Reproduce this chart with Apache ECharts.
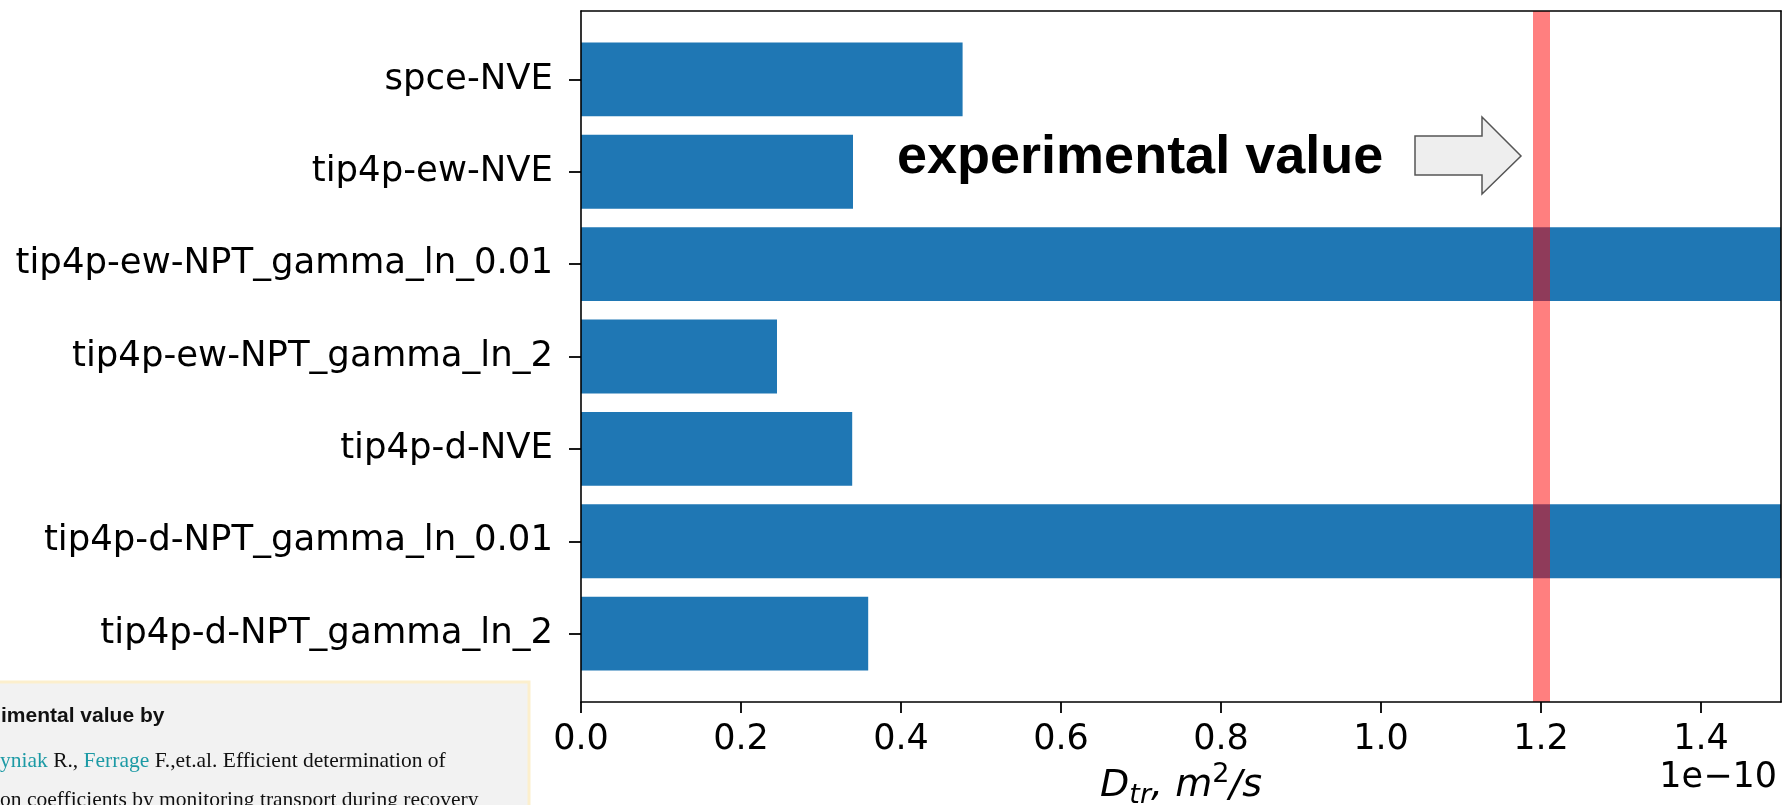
<!DOCTYPE html>
<html>
<head>
<meta charset="utf-8">
<script src="https://cdn.jsdelivr.net/npm/echarts@6/dist/echarts.min.js"></script>
<style>
  html, body { margin: 0; padding: 0; background: #ffffff; }
  #chart { width: 1783px; height: 805px; }
</style>
</head>
<body>
<div id="chart"></div>
<script>
// Water models / ensembles, listed top to bottom
const categories = [
  'spce-NVE',
  'tip4p-ew-NVE',
  'tip4p-ew-NPT_gamma_ln_0.01',
  'tip4p-ew-NPT_gamma_ln_2',
  'tip4p-d-NVE',
  'tip4p-d-NPT_gamma_ln_0.01',
  'tip4p-d-NPT_gamma_ln_2'
];
// Translational diffusion coefficient, in units of 1e-10 m^2/s
const diffusion = [0.477, 0.340, 1.62, 0.245, 0.339, 1.62, 0.359];
// Experimental reference value, same units
const experimental = [1.2];
// Bottom axis
const xTicks = [0, 0.2, 0.4, 0.6, 0.8, 1.0, 1.2, 1.4];
const xRange = [0, 1.5];
const xOffsetText = '1e\u221210';

const FONT = 'DejaVu Sans';
const plotLeft = 581, plotRight = 2, plotTop = 11, plotBottom = 103;
// category bands leave a margin of 0.74 bar spacing above and below
const unit = (805 - plotTop - plotBottom) / 7.48;
const bandTop = plotTop + (0.74 - 0.5) * unit;
const bandHeight = 7 * unit;

const frameAxis = {
  gridIndex: 1,
  z: 10,
  axisLine: { show: true, onZero: false, lineStyle: { color: '#000', width: 1.6 } },
  axisTick: { show: false },
  axisLabel: { show: false },
  splitLine: { show: false }
};

const chart = echarts.init(document.getElementById('chart'), null, { renderer: 'canvas' });
chart.setOption({
  animation: false,
  backgroundColor: '#ffffff',
  grid: [
    { left: plotLeft, right: plotRight, top: bandTop, height: bandHeight, containLabel: false, outerBoundsMode: 'none' },
    { left: plotLeft, right: plotRight, top: plotTop, bottom: plotBottom, containLabel: false, outerBoundsMode: 'none' }
  ],
  xAxis: [
    { type: 'value', gridIndex: 0, min: xRange[0], max: xRange[1], show: false },
    Object.assign({}, frameAxis, {
      type: 'value', position: 'bottom', min: xRange[0], max: xRange[1],
      axisTick: { show: true, length: 11, customValues: xTicks, lineStyle: { color: '#000', width: 1.8 } },
      axisLabel: {
        show: true, customValues: xTicks, margin: 20,
        formatter: v => v.toFixed(1),
        fontFamily: FONT, fontSize: 35, color: '#000'
      },
      name: '{i|D}{s|tr}{i|, m}{p|2}{i|/s}',
      nameLocation: 'middle',
      nameGap: 42,
      nameTextStyle: {
        verticalAlign: 'top',
        rich: {
          i: { fontFamily: FONT, fontStyle: 'italic', fontSize: 38, color: '#000', lineHeight: 48 },
          s: { fontFamily: FONT, fontStyle: 'italic', fontSize: 27, color: '#000', verticalAlign: 'bottom', lineHeight: 27 },
          p: { fontFamily: FONT, fontSize: 27, color: '#000', verticalAlign: 'top', lineHeight: 27 }
        }
      }
    }),
    Object.assign({}, frameAxis, { type: 'value', position: 'top', min: 0, max: 1 })
  ],
  yAxis: [
    {
      type: 'category', gridIndex: 0, inverse: true, data: categories,
      axisLine: { show: false },
      axisTick: { show: true, alignWithLabel: true, length: 12, lineStyle: { color: '#000', width: 1.8 } },
      axisLabel: { margin: 28, fontFamily: FONT, fontSize: 35.5, color: '#000' },
      splitLine: { show: false }
    },
    Object.assign({}, frameAxis, { type: 'value', position: 'left', min: 0, max: 1 }),
    Object.assign({}, frameAxis, { type: 'value', position: 'right', min: 0, max: 1 })
  ],
  series: [
    {
      type: 'bar',
      xAxisIndex: 0,
      yAxisIndex: 0,
      data: diffusion,
      barWidth: '80%',
      itemStyle: { color: '#1f77b4' },
      clip: true,
      silent: true,
      z: 2
    },
    {
      type: 'line',
      xAxisIndex: 1,
      yAxisIndex: 1,
      data: experimental.map(v => [v, 0.5]),
      showSymbol: false,
      lineStyle: { opacity: 0 },
      silent: true,
      z: 4,
      markLine: {
        silent: true,
        symbol: ['none', 'none'],
        label: { show: false },
        emphasis: { disabled: true },
        lineStyle: { color: '#ff0000', opacity: 0.5, width: 17, type: 'solid' },
        data: experimental.map(v => ({ xAxis: v }))
      }
    }
  ],
  graphic: [
    {
      type: 'text', x: 897, y: 158, z: 20,
      style: {
        text: 'experimental value',
        fontFamily: 'Liberation Sans', fontWeight: 'bold', fontSize: 54,
        fill: '#000', verticalAlign: 'middle', align: 'left'
      }
    },
    {
      type: 'polygon', z: 20,
      shape: { points: [[1415, 136], [1482, 136], [1482, 117], [1521, 156], [1482, 194], [1482, 175], [1415, 175]] },
      style: { fill: '#eeeeee', stroke: '#555555', lineWidth: 1.5 }
    },
    {
      type: 'text', x: 1777, y: 778, z: 20,
      style: {
        text: xOffsetText, fontFamily: FONT, fontSize: 35, fill: '#000',
        align: 'right', verticalAlign: 'middle'
      }
    },
    {
      type: 'rect', z: 30,
      shape: { x: -4, y: 682, width: 533, height: 140 },
      style: { fill: '#f2f2f2', stroke: '#fcefcd', lineWidth: 3 }
    },
    {
      type: 'text', x: 1, y: 716, z: 31,
      style: {
        text: 'imental value by', fontFamily: 'Liberation Sans', fontWeight: 'bold',
        fontSize: 21, fill: '#111', verticalAlign: 'middle'
      }
    },
    {
      type: 'text', x: 0, y: 761, z: 31,
      style: {
        text: '{a|yniak} R., {a|Ferrage} F.,et.al. Efficient determination of',
        fontFamily: 'Liberation Serif', fontSize: 21.5, fill: '#111', verticalAlign: 'middle',
        rich: { a: { fontFamily: 'Liberation Serif', fontSize: 21.5, fill: '#1c9aa5' } }
      }
    },
    {
      type: 'text', x: 0, y: 800, z: 31,
      style: {
        text: 'on coefficients by monitoring transport during recovery',
        fontFamily: 'Liberation Serif', fontSize: 21.5, fill: '#111', verticalAlign: 'middle'
      }
    }
  ]
});
</script>
</body>
</html>
